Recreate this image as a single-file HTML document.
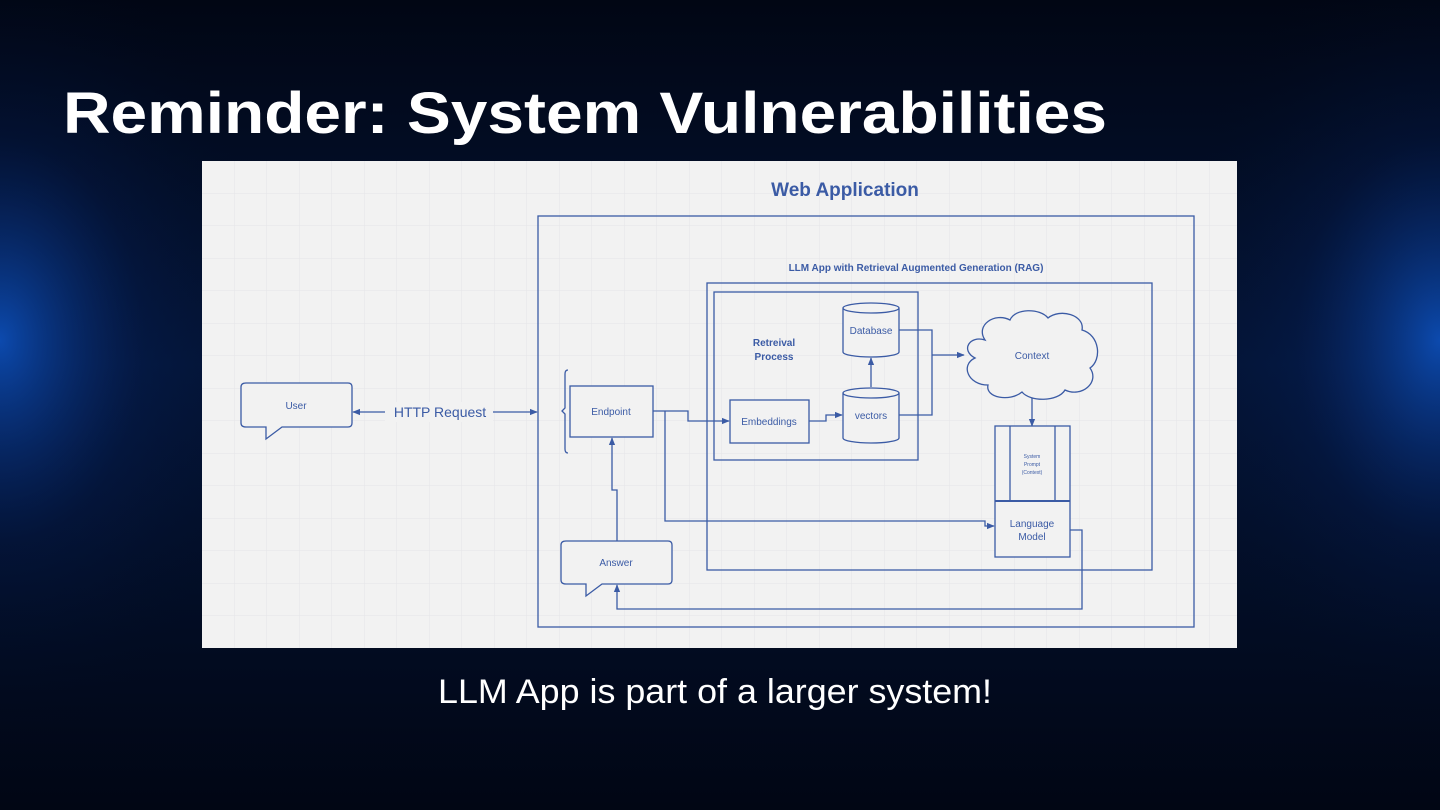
<!DOCTYPE html>
<html><head><meta charset="utf-8"><style>
html,body{margin:0;padding:0;width:1440px;height:810px;overflow:hidden;background:#020a1c;}
</style></head><body>
<svg width="1440" height="810" viewBox="0 0 1440 810" xmlns="http://www.w3.org/2000/svg" font-family="Liberation Sans, sans-serif">
<defs>
<radialGradient id="gl" cx="0" cy="0.42" r="0.5" gradientTransform="scale(0.4,1)">
<stop offset="0" stop-color="#0c4aae"/><stop offset="0.5" stop-color="#06226040"/><stop offset="1" stop-color="#020a1c" stop-opacity="0"/></radialGradient>
<radialGradient id="gr" cx="1" cy="0.42" r="0.5" gradientTransform="translate(0.6,0) scale(0.4,1)">
<stop offset="0" stop-color="#0c4aae"/><stop offset="0.5" stop-color="#06226040"/><stop offset="1" stop-color="#020a1c" stop-opacity="0"/></radialGradient>
<linearGradient id="vg" x1="0" y1="0" x2="0" y2="1"><stop offset="0" stop-color="#010614"/><stop offset="0.45" stop-color="#041538"/><stop offset="1" stop-color="#010614"/></linearGradient>
<pattern id="grid" width="32.5" height="32.5" patternUnits="userSpaceOnUse" x="202" y="161"><path d="M32.5 0V32.5H0" fill="none" stroke="#e4e4e8" stroke-width="1"/></pattern>
<marker id="a" viewBox="0 0 10 10" refX="9" refY="5" markerWidth="6" markerHeight="6" orient="auto-start-reverse"><path d="M0 1L10 5L0 9z" fill="#3b5ba5"/></marker>
</defs>
<rect width="1440" height="810" fill="url(#vg)"/>
<rect width="1440" height="810" fill="url(#gl)"/>
<rect width="1440" height="810" fill="url(#gr)"/>
<text x="63" y="133" fill="#fff" font-size="58" font-weight="bold" textLength="1044" lengthAdjust="spacingAndGlyphs">Reminder: System Vulnerabilities</text>
<rect x="202" y="161" width="1035" height="487" fill="#f2f2f2"/>
<rect x="202" y="161" width="1035" height="487" fill="url(#grid)"/>
<g fill="none" stroke="#3b5ba5" stroke-width="1.3">
<rect x="538" y="216" width="656" height="411"/>
<rect x="707" y="283" width="445" height="287"/>
<rect x="714" y="292" width="204" height="168"/>
<rect x="730" y="400" width="79" height="43" fill="#f2f2f2"/>
<rect x="570" y="386" width="83" height="51" fill="#f2f2f2"/>
<path d="M843 308V352A28 5 0 0 0 899 352V308A28 5 0 0 0 843 308A28 5 0 0 0 899 308" fill="#f2f2f2"/>
<path d="M843 393V438A28 5 0 0 0 899 438V393A28 5 0 0 0 843 393A28 5 0 0 0 899 393" fill="#f2f2f2"/>
<path d="M568 370Q565 370 565 374V408L562 411L565 414V449Q565 453 568 453"/>
<path d="M246 383H348Q352 383 352 387V423Q352 427 348 427H282L266 439V427H246Q241 427 241 423V387Q241 383 246 383z" fill="#f2f2f2"/>
<path d="M566 541H668Q672 541 672 545V580Q672 584 668 584H602L586 596V584H566Q561 584 561 580V545Q561 541 566 541z" fill="#f2f2f2"/>
<path d="M985 340C975 325 995 312 1010 320C1015 308 1040 308 1048 318C1060 308 1085 315 1082 330C1100 335 1102 360 1090 368C1100 382 1082 398 1065 390C1058 402 1030 402 1022 392C1010 402 985 398 988 385C968 385 960 365 975 358C960 350 970 335 985 340z" fill="#f2f2f2"/>
<rect x="995" y="426" width="75" height="131" fill="#f2f2f2"/>
<path d="M1010 426V501M1055 426V501"/>
<path d="M995 501H1070" stroke-width="2"/>
<path d="M353 412H537" marker-start="url(#a)" marker-end="url(#a)"/>
<path d="M653 411H688V421H729" marker-end="url(#a)"/>
<path d="M665 411V521H985V526H994" marker-end="url(#a)"/>
<path d="M809 421H826V415H842" marker-end="url(#a)"/>
<path d="M871 387V358" marker-end="url(#a)"/>
<path d="M899 330H932V415H899M932 355H964" marker-end="url(#a)"/>
<path d="M1032 398V426" marker-end="url(#a)"/>
<path d="M1070 530H1082V609H617V585" marker-end="url(#a)"/>
<path d="M617 541V490H612V438" marker-end="url(#a)"/>
</g>
<rect x="385" y="402" width="108" height="20" fill="#f2f2f2"/>
<g fill="#3b5ba5" text-anchor="middle">
<text x="845" y="196" font-size="19" font-weight="bold">Web Application</text>
<text x="916" y="271" font-size="10" font-weight="bold">LLM App with Retrieval Augmented Generation (RAG)</text>
<text x="774" y="346" font-size="10" font-weight="bold">Retreival</text>
<text x="774" y="360" font-size="10" font-weight="bold">Process</text>
<text x="440" y="417" font-size="14">HTTP Request</text>
<text x="296" y="409" font-size="10">User</text>
<text x="611" y="415" font-size="10">Endpoint</text>
<text x="769" y="425" font-size="10">Embeddings</text>
<text x="871" y="334" font-size="10">Database</text>
<text x="871" y="419" font-size="10">vectors</text>
<text x="1032" y="359" font-size="10">Context</text>
<text x="1032" y="458" font-size="5">System</text>
<text x="1032" y="466" font-size="5">Prompt</text>
<text x="1032" y="474" font-size="5">(Context)</text>
<text x="1032" y="527" font-size="10">Language</text>
<text x="1032" y="540" font-size="10">Model</text>
<text x="616" y="566" font-size="10">Answer</text>
</g>
<text x="438" y="703" fill="#fff" font-size="34" textLength="554" lengthAdjust="spacingAndGlyphs">LLM App is part of a larger system!</text>
</svg>
</body></html>
